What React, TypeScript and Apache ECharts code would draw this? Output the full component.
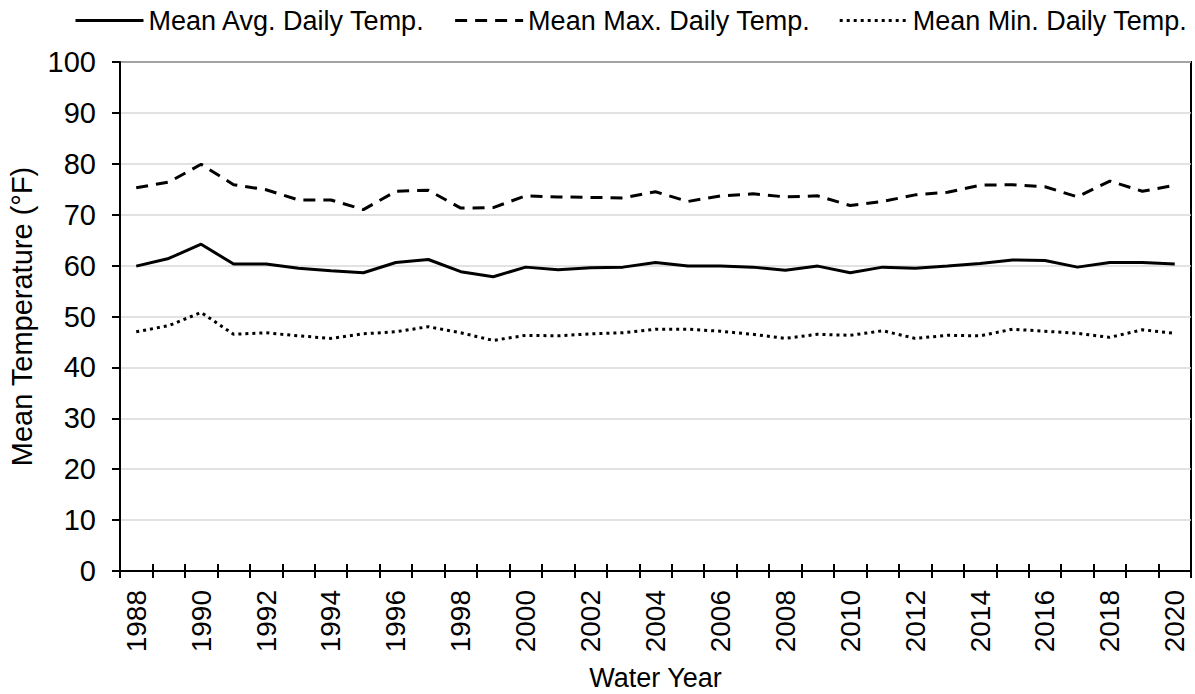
import React, { useEffect, useRef } from "react";
import * as echarts from "echarts";

const years = [
  "1988","1989","1990","1991","1992","1993","1994","1995","1996","1997","1998",
  "1999","2000","2001","2002","2003","2004","2005","2006","2007","2008","2009",
  "2010","2011","2012","2013","2014","2015","2016","2017","2018","2019","2020",
];

const avgTemp = [
  59.9, 61.4, 64.2, 60.3, 60.3, 59.5, 59.0, 58.6, 60.6, 61.2, 58.8,
  57.8, 59.7, 59.2, 59.6, 59.7, 60.6, 59.9, 59.9, 59.7, 59.1, 59.9,
  58.6, 59.7, 59.5, 59.9, 60.4, 61.1, 61.0, 59.7, 60.6, 60.6, 60.3,
];

const maxTemp = [
  75.3, 76.4, 79.9, 75.9, 74.9, 72.9, 72.9, 71.0, 74.6, 74.8, 71.3,
  71.4, 73.7, 73.5, 73.4, 73.3, 74.5, 72.6, 73.7, 74.1, 73.5, 73.7,
  71.8, 72.6, 73.9, 74.4, 75.8, 75.9, 75.5, 73.5, 76.6, 74.6, 75.8,
];

const minTemp = [
  47.0, 48.2, 50.8, 46.5, 46.8, 46.2, 45.7, 46.6, 47.0, 48.0, 46.8,
  45.3, 46.3, 46.2, 46.6, 46.8, 47.5, 47.5, 47.1, 46.5, 45.7, 46.5,
  46.3, 47.2, 45.7, 46.3, 46.2, 47.5, 47.1, 46.7, 45.9, 47.4, 46.7,
];

const seriesNames = [
  "Mean Avg. Daily Temp.",
  "Mean Max. Daily Temp.",
  "Mean Min. Daily Temp.",
];

const FONT = 'Arial, "Liberation Sans", sans-serif';

export default function App() {
  const ref = useRef<HTMLDivElement>(null);

  useEffect(() => {
    if (!ref.current) return;
    const chart = echarts.init(ref.current, undefined, { renderer: "svg" });
    chart.setOption({
      animation: false,
      backgroundColor: "#ffffff",
      textStyle: { fontFamily: FONT, color: "#000" },
      legend: {
        top: 7,
        left: 74,
        width: 1120,
        padding: 0,
        itemWidth: 68,
        itemHeight: 14,
        itemGap: 28,
        data: seriesNames,
        itemStyle: { opacity: 0 },
        lineStyle: { width: 3 },
        textStyle: { fontFamily: FONT, fontSize: 27, color: "#000" },
      },
      grid: {
        left: 120,
        right: 4,
        top: 62,
        bottom: 123,
        outerBoundsMode: "none",
        containLabel: false,
        show: true,
        borderColor: "#000",
        borderWidth: 2,
        backgroundColor: "transparent",
      },
      xAxis: [
        {
          type: "category",
          data: years,
          boundaryGap: true,
          name: "Water Year",
          nameLocation: "middle",
          nameGap: 93,
          nameTextStyle: { fontFamily: FONT, fontSize: 27, color: "#000" },
          axisLine: { show: true, lineStyle: { color: "#000", width: 2 } },
          axisTick: {
            show: true,
            alignWithLabel: false,
            interval: 0,
            length: 7,
            lineStyle: { color: "#000", width: 2 },
          },
          axisLabel: {
            interval: 1,
            rotate: 90,
            margin: 19,
            fontFamily: FONT,
            fontSize: 28,
            color: "#000",
          },
          splitLine: { show: false },
        },
        {
          type: "category",
          data: years,
          boundaryGap: true,
          position: "bottom",
          axisLine: { show: false },
          axisTick: {
            show: true,
            inside: true,
            interval: 0,
            length: 7,
            lineStyle: { color: "#000", width: 2 },
          },
          axisLabel: { show: false },
          splitLine: { show: false },
        },
      ],
      yAxis: {
        type: "value",
        min: 0,
        max: 100,
        interval: 10,
        name: "Mean Temperature (°F)",
        nameLocation: "middle",
        nameGap: 82,
        nameTextStyle: { fontFamily: FONT, fontSize: 29, color: "#000" },
        axisLine: { show: true, lineStyle: { color: "#000", width: 2 } },
        axisTick: { show: true, length: 8, lineStyle: { color: "#000", width: 2 } },
        axisLabel: {
          margin: 24,
          fontFamily: FONT,
          fontSize: 29,
          color: "#000",
        },
        splitLine: { show: true, lineStyle: { color: "#d9d9d9", width: 1.5 } },
      },
      series: [
        {
          name: seriesNames[0],
          type: "line",
          data: avgTemp,
          symbol: "none",
          lineStyle: { color: "#000", width: 3, type: "solid" },
          itemStyle: { color: "#000" },
        },
        {
          name: seriesNames[1],
          type: "line",
          data: maxTemp,
          symbol: "none",
          lineStyle: { color: "#000", width: 3, type: [12, 8] },
          itemStyle: { color: "#000" },
        },
        {
          name: seriesNames[2],
          type: "line",
          data: minTemp,
          symbol: "none",
          lineStyle: { color: "#000", width: 3, type: [3, 4] },
          itemStyle: { color: "#000" },
        },
      ],
    });
    return () => chart.dispose();
  }, []);

  return (
    <div
      ref={ref}
      style={{ position: "fixed", left: 0, top: 0, width: 1195, height: 694 }}
    />
  );
}
